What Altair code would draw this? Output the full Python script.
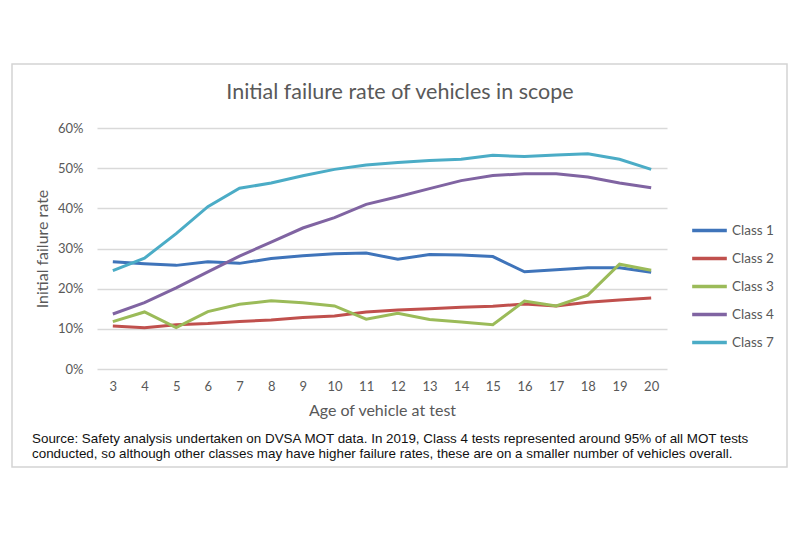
import altair as alt
import pandas as pd

# Age of vehicle at test (years)
ages = [3, 4, 5, 6, 7, 8, 9, 10, 11, 12, 13, 14, 15, 16, 17, 18, 19, 20]

# initial failure rate
class_1 = [0.267, 0.262, 0.258, 0.267, 0.263, 0.275, 0.282, 0.287, 0.289, 0.273,
           0.285, 0.284, 0.280, 0.242, 0.247, 0.252, 0.252, 0.241]
class_2 = [0.107, 0.103, 0.110, 0.113, 0.118, 0.122, 0.128, 0.132, 0.142, 0.147,
           0.150, 0.154, 0.156, 0.162, 0.157, 0.166, 0.172, 0.177]
class_3 = [0.118, 0.142, 0.103, 0.143, 0.161, 0.170, 0.165, 0.157, 0.124, 0.139,
           0.123, 0.117, 0.110, 0.169, 0.157, 0.184, 0.261, 0.246]
class_4 = [0.137, 0.165, 0.202, 0.242, 0.281, 0.316, 0.351, 0.377, 0.410, 0.429,
           0.449, 0.469, 0.482, 0.486, 0.486, 0.478, 0.463, 0.451]
class_7 = [0.245, 0.276, 0.337, 0.404, 0.450, 0.463, 0.481, 0.497, 0.508, 0.514,
           0.519, 0.522, 0.532, 0.529, 0.533, 0.536, 0.522, 0.497]

classes = ["Class 1", "Class 2", "Class 3", "Class 4", "Class 7"]
colours = ["#3F74BA", "#C0504D", "#9BBB59", "#8064A2", "#4BACC6"]

title_text = "Initial failure rate of vehicles in scope"
source_text = [
    "Source: Safety analysis undertaken on DVSA MOT data. In 2019, Class 4 tests represented around 95% of all MOT tests",
    "conducted, so although other classes may have higher failure rates, these are on a smaller number of vehicles overall.",
]

rows = []
for name, values in zip(classes, [class_1, class_2, class_3, class_4, class_7]):
    for age, v in zip(ages, values):
        rows.append({"Age": age, "Class": name, "Rate": v})
df = pd.DataFrame(rows)

grey = "#595959"
font = "Lato"

lines = alt.Chart(df).mark_line(strokeWidth=3).encode(
    x=alt.X("Age:O", title="Age of vehicle at test",
            axis=alt.Axis(labelAngle=0, labelPadding=11, titlePadding=9, ticks=False,
                          domain=False, labelFontSize=13, titleFontSize=16,
                          labelColor=grey, titleColor=grey, labelFont=font,
                          titleFont=font, titleFontWeight="normal")),
    y=alt.Y("Rate:Q", title="Initial failure rate",
            scale=alt.Scale(domain=[0, 0.6]),
            axis=alt.Axis(format=".0%", values=[0, 0.1, 0.2, 0.3, 0.4, 0.5, 0.6],
                          ticks=False, domain=False, labelPadding=14, titlePadding=7,
                          gridColor="#d9d9d9", gridWidth=1.3, labelFontSize=13,
                          titleFontSize=16, labelColor=grey, titleColor=grey,
                          labelFont=font, titleFont=font, titleFontWeight="normal")),
    color=alt.Color("Class:N",
                    scale=alt.Scale(domain=classes, range=colours),
                    legend=alt.Legend(title=None, orient="none", legendX=602, legendY=92,
                                      symbolType="M-2,0H2", symbolSize=300,
                                      symbolStrokeWidth=3.5, labelOffset=12,
                                      labelFontSize=13.5, labelFont=font,
                                      labelColor=grey, rowPadding=10, padding=0)),
)

frame = alt.Chart(pd.DataFrame({"k": [0]})).mark_rect(
    filled=False, stroke="#d4d4d4", strokeWidth=1.5
).encode(x=alt.value(-85), x2=alt.value(690), y=alt.value(-64), y2=alt.value(339))

title = alt.Chart(pd.DataFrame({"t": [title_text]})).mark_text(
    font=font, fontSize=21.5, color=grey, align="center", baseline="alphabetic"
).encode(text="t:N", x=alt.value(303), y=alt.value(-29))

source = alt.Chart(pd.DataFrame({"k": [0]})).mark_text(
    font="Liberation Sans", fontSize=13.4, color="#111111", align="left",
    baseline="alphabetic", lineHeight=15
).encode(text=alt.value(source_text), x=alt.value(-65), y=alt.value(315))

chart = alt.layer(frame, lines, title, source).properties(
    width=570, height=241,
    autosize=alt.AutoSizeParams(type="none"),
    padding={"left": 89, "top": 120, "right": 125, "bottom": 156},
).configure_view(strokeWidth=0)

chart.save("out.html", embed_options={"renderer": "svg", "actions": False})
